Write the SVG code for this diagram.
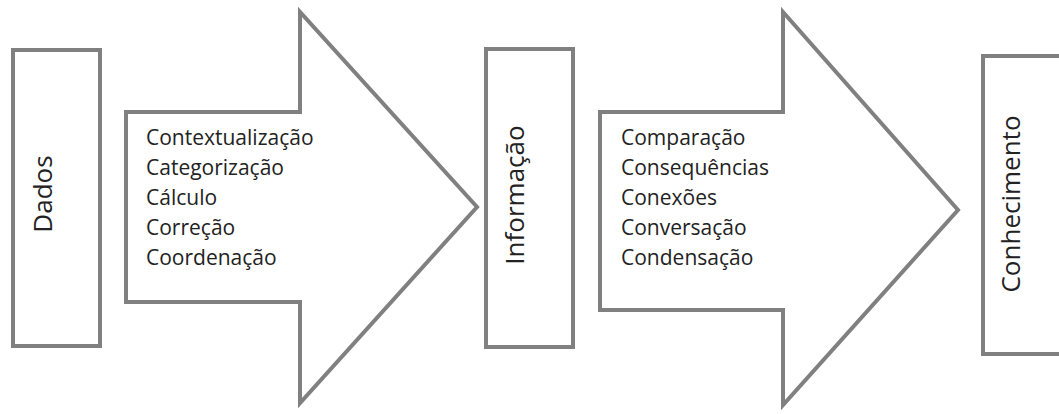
<svg xmlns="http://www.w3.org/2000/svg" width="1059" height="414" viewBox="0 0 1059 414">
  <style>
    .box { fill: #ffffff; stroke: #808080; stroke-width: 4; }
    .arrow { fill: #ffffff; stroke: #808080; stroke-width: 4; stroke-linejoin: miter; }
    .title { font-family: "Open Sans", "Noto Sans", sans-serif; font-size: 26px; fill: #222222; text-anchor: middle; }
    .item { font-family: "Open Sans", "Noto Sans", sans-serif; font-size: 21px; fill: #222222; }
  </style>
  <rect width="1059" height="414" fill="#ffffff"/>

  <!-- processes between stages -->
  <g id="connectors">
    <g id="arrow-1">
      <polygon class="arrow" points="126,112 300,112 300,12 477,207 300,403 300,302 126,302"/>
      <text class="item" x="146" y="145">Contextualização</text>
      <text class="item" x="146" y="175">Categorização</text>
      <text class="item" x="146" y="205">Cálculo</text>
      <text class="item" x="146" y="235">Correção</text>
      <text class="item" x="146" y="265">Coordenação</text>
    </g>
    <g id="arrow-2">
      <polygon class="arrow" points="600,112 783,112 783,12 958,210 783,405 783,310 600,310"/>
      <text class="item" x="621" y="145">Comparação</text>
      <text class="item" x="621" y="175">Consequências</text>
      <text class="item" x="621" y="205">Conexões</text>
      <text class="item" x="621" y="235">Conversação</text>
      <text class="item" x="621" y="265">Condensação</text>
    </g>
  </g>

  <!-- stages -->
  <g id="dados">
    <rect class="box" x="13" y="50" width="87" height="296"/>
    <text class="title" transform="translate(52,194) rotate(-90)">Dados</text>
  </g>
  <g id="informacao">
    <rect class="box" x="486" y="49" width="87" height="298"/>
    <text class="title" transform="translate(524,195) rotate(-90)">Informação</text>
  </g>
  <g id="conhecimento">
    <rect class="box" x="983" y="56" width="100" height="298"/>
    <text class="title" transform="translate(1020,204) rotate(-90)">Conhecimento</text>
  </g>
</svg>
